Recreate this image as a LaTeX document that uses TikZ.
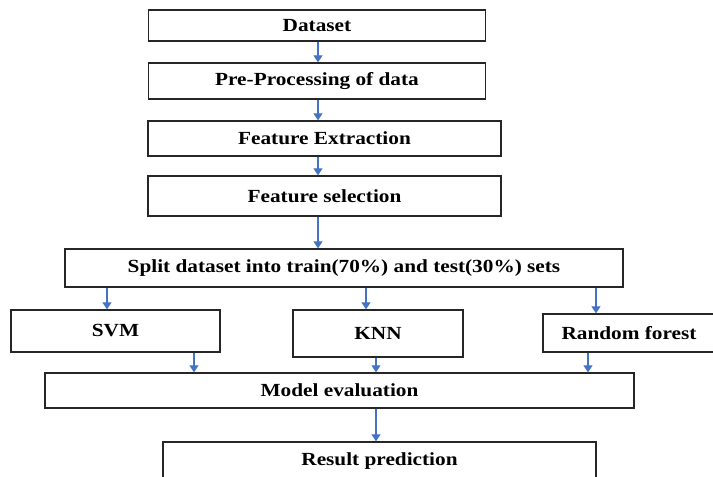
\documentclass[tikz,border=0pt]{standalone}
\usepackage{fontspec}
\setmainfont{Liberation Serif}[FakeStretch=1.15]
\usetikzlibrary{arrows.meta}
\definecolor{flowblue}{RGB}{68,114,196}
\begin{document}
\begin{tikzpicture}
[x=1pt,y=-1pt,
  stepbox/.style={shape=rectangle,draw=black!85,line width=1.4pt,inner sep=0pt,
    font=\fontsize{18.5}{22}\selectfont\bfseries},%
  flow/.style={draw=flowblue,line width=1.2pt,-{Triangle[width=9pt,length=7pt]}}]
\useasboundingbox (0,0) rectangle (713,477);
%% boxes: name/centre x/centre y/width/height/text
\foreach \nodename/\x/\y/\w/\h/\txt in {
  data/317/25.5/337/31/Dataset,
  prep/317/81/337/36/Pre-Processing of data,
  fext/324.5/138.5/353/35/Feature Extraction,
  fsel/324.5/196/353/40/Feature selection,
  split/344/268/558/38/Split dataset into train(70\%) and test(30\%) sets,
  svm/115.5/331/209/42/SVM,
  knn/378/333.5/170/47/KNN,
  rfor/629/333/172/38/Random forest,
  meval/339.5/390.5/589/35/Model evaluation,
  resp/379.5/461/433/38/Result prediction} {
  \node (\nodename) at (\x,\y) [stepbox,minimum width=\w pt,minimum height=\h pt] {\txt};
}
%% arrows: from/to/x
\foreach \a/\b/\x in {data/prep/318, prep/fext/318, fext/fsel/318, fsel/split/318,
  split/svm/107, split/knn/366, split/rfor/596,
  svm/meval/194, knn/meval/376, rfor/meval/588, meval/resp/376} {
  \draw[flow] (\a.south -| \x,0) -- (\b.north -| \x,0);
}
\end{tikzpicture}
\end{document}
